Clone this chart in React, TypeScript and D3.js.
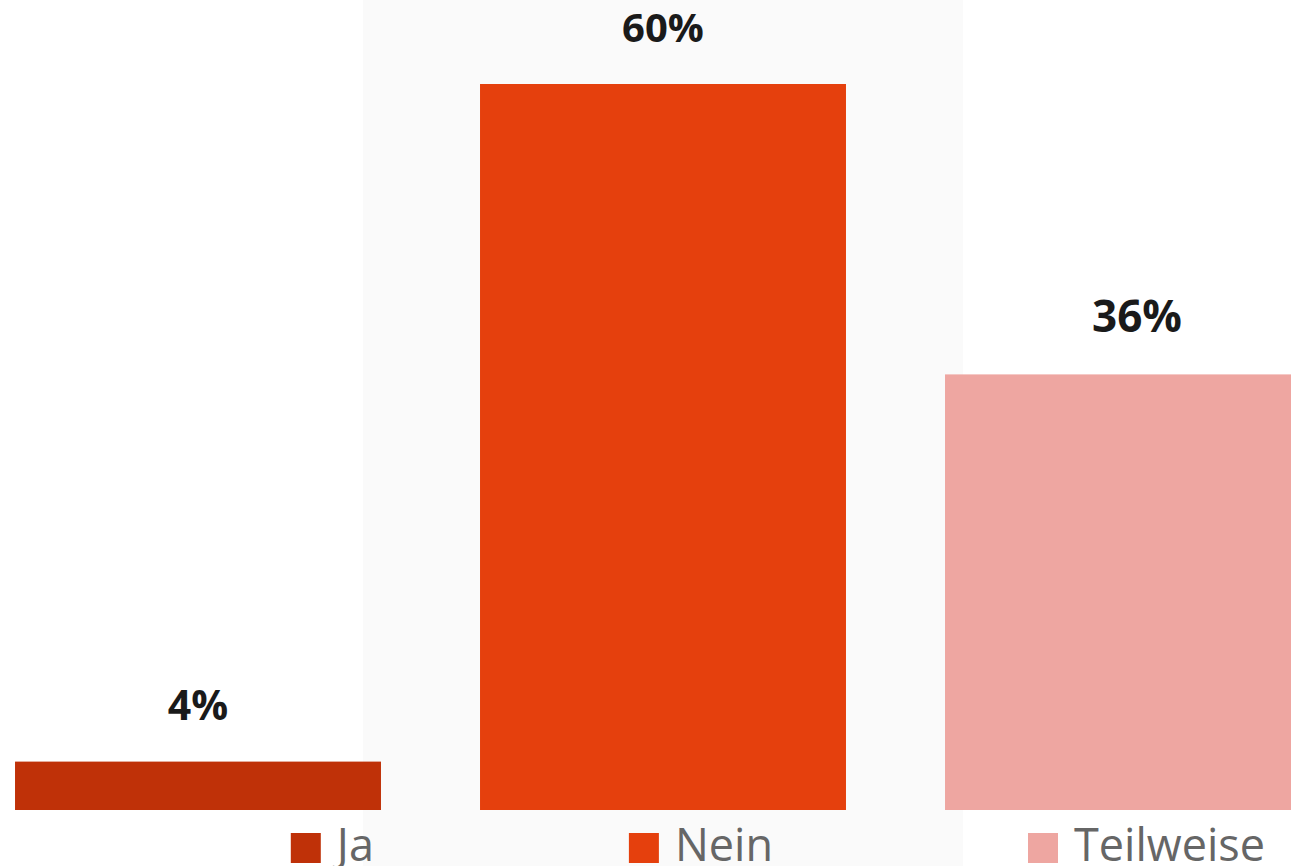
import React, { useEffect, useRef } from "react";
import * as d3 from "d3";

const categories = ["Ja", "Nein", "Teilweise"];
const values = [4, 60, 36];
const valueLabels = ["4%", "60%", "36%"];

const colors = ["#BF3108", "#E5400D", "#EEA6A1"];
const labelFontSizes = [41, 40, 44];
const W = 1291;
const H = 866;

export default function App() {
  const ref = useRef<SVGSVGElement | null>(null);

  useEffect(() => {
    const svg = d3.select(ref.current);
    svg.selectAll("*").remove();

    const x = d3
      .scaleBand<string>()
      .domain(categories)
      .range([-34.5, 1360.5])
      .paddingInner(0.213)
      .paddingOuter(0.1065);
    const y = d3.scaleLinear().domain([0, 60]).range([810, 84]);

    // highlight band behind middle category
    const mid = categories[1];
    const bandCenter = (x(mid) as number) + x.bandwidth() / 2;
    const bandW = x.step() * 1.29;
    svg
      .append("rect")
      .attr("x", bandCenter - bandW / 2)
      .attr("y", 0)
      .attr("width", bandW)
      .attr("height", H)
      .attr("fill", "#FAFAFA");

    svg
      .selectAll("rect.bar")
      .data(values)
      .join("rect")
      .attr("class", "bar")
      .attr("x", (_, i) => x(categories[i]) as number)
      .attr("y", (d) => y(d))
      .attr("width", x.bandwidth())
      .attr("height", (d) => y(0) - y(d))
      .attr("fill", (_, i) => colors[i]);

    svg
      .selectAll("text.val")
      .data(values)
      .join("text")
      .attr("class", "val")
      .attr("x", (_, i) => {
        const cx = (x(categories[i]) as number) + x.bandwidth() / 2;
        return i === 2 ? cx + 9 : cx;
      })
      .attr("y", (d) => y(d) - 42)
      .attr("text-anchor", "middle")
      .attr("font-family", "'Open Sans', sans-serif")
      .attr("font-weight", 700)
      .attr("font-size", (_, i) => labelFontSizes[i])
      .attr("fill", "#1a1a1a")
      .text((_, i) => valueLabels[i]);

    // legend: right-aligned row with equal gaps
    const legend = svg.append("g");
    const items = categories.map((c, i) => {
      const g = legend.append("g");
      g.append("rect")
        .attr("x", 0)
        .attr("y", 833)
        .attr("width", 30)
        .attr("height", 30)
        .attr("fill", colors[i]);
      const t = g
        .append("text")
        .attr("x", 46)
        .attr("y", 861)
        .attr("font-family", "'Open Sans', sans-serif")
        .attr("font-size", 45)
        .attr("fill", "#666666")
        .text(c);
      const tw = (t.node() as SVGTextElement).getComputedTextLength();
      return { g, w: 46 + tw };
    });
    const gap = 255;
    let right = 1265;
    for (let i = items.length - 1; i >= 0; i--) {
      const left = right - items[i].w;
      items[i].g.attr("transform", `translate(${left},0)`);
      right = left - gap;
    }
  }, []);

  return (
    <div style={{ position: "absolute", left: 0, top: 0, width: W, height: H, background: "#fff" }}>
      <svg ref={ref} width={W} height={H} style={{ display: "block" }} />
    </div>
  );
}
